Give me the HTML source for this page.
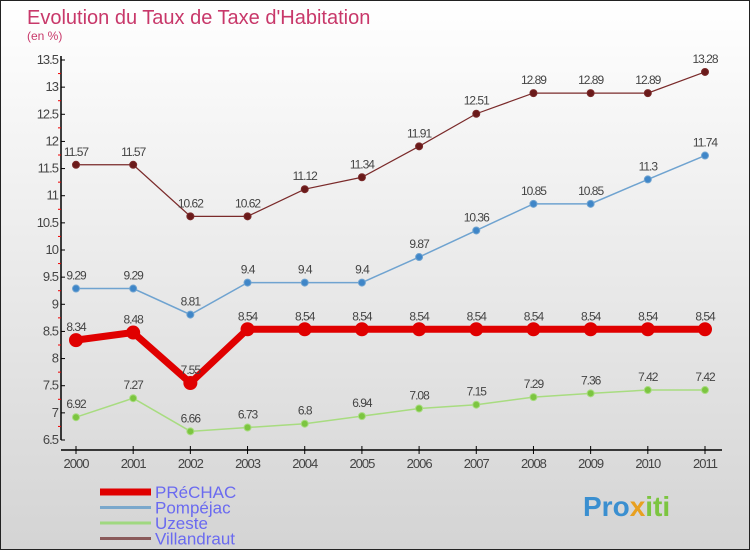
<!DOCTYPE html>
<html><head><meta charset="utf-8"><style>
body{margin:0}
#wrap{width:750px;height:550px;position:relative;overflow:hidden}
svg{display:block;font-family:"Liberation Sans",sans-serif}
</style></head><body>
<div id="wrap">
<svg id="c" width="750" height="550">
<defs><linearGradient id="bg" x1="0" y1="0" x2="0" y2="1"><stop offset="0" stop-color="#ffffff"/><stop offset="1" stop-color="#d4d4d4"/></linearGradient></defs>
<rect x="0.5" y="0.5" width="749" height="549" fill="url(#bg)" stroke="#222"/>
<text x="27" y="24" font-size="20" fill="#c8386a">Evolution du Taux de Taxe d'Habitation</text>
<text x="27" y="40" font-size="12" fill="#c8386a">(en %)</text>
<g id="axes"></g><g id="series"></g><g id="legend"></g>
<text x="583" y="516" font-size="28" font-weight="bold" fill="#3a8fd0">Pro<tspan fill="#e8a020">x</tspan><tspan fill="#7cc540">iti</tspan></text>
</svg></div>
<script>
const years=[2000,2001,2002,2003,2004,2005,2006,2007,2008,2009,2010,2011];
const yTicks=[6.5,7,7.5,8,8.5,9,9.5,10,10.5,11,11.5,12,12.5,13,13.5];
const prechac=[8.34,8.48,7.55,8.54,8.54,8.54,8.54,8.54,8.54,8.54,8.54,8.54];
const pompejac=[9.29,9.29,8.81,9.4,9.4,9.4,9.87,10.36,10.85,10.85,11.3,11.74];
const uzeste=[6.92,7.27,6.66,6.73,6.8,6.94,7.08,7.15,7.29,7.36,7.42,7.42];
const villandraut=[11.57,11.57,10.62,10.62,11.12,11.34,11.91,12.51,12.89,12.89,12.89,13.28];
const seriesNames=["PRéCHAC","Pompéjac","Uzeste","Villandraut"];
const NS="http://www.w3.org/2000/svg";
const X=i=>76+i*(705-76)/11;
const Y=v=>60+(13.5-v)*380/7;
function mk(t,a,p){const e=document.createElementNS(NS,t);for(const k in a)e.setAttribute(k,a[k]);p.appendChild(e);return e;}
const ax=document.getElementById('axes');
let yl=mk('line',{x1:61,y1:56,x2:61,y2:440,stroke:'#000','stroke-width':1.5},ax);


let xl=mk('line',{x1:61,y1:450,x2:722,y2:450,stroke:'#000','stroke-width':1.5},ax);


yTicks.forEach((v,i)=>{const y=Y(v);
mk('line',{x1:61,y1:y,x2:65,y2:y,stroke:'#000'},ax);
if(i<yTicks.length-1)mk('line',{x1:58,y1:y-13.57,x2:61,y2:y-13.57,stroke:'#e00'},ax);
const t=mk('text',{x:58,y:y+4,'font-size':13,fill:'#444','text-anchor':'end','letter-spacing':'-1'},ax);t.textContent=v;

});
years.forEach((yr,i)=>{const x=X(i);
mk('line',{x1:x,y1:446,x2:x,y2:454,stroke:'#000'},ax);
const t=mk('text',{x:x,y:468,'font-size':13,fill:'#444','text-anchor':'middle','letter-spacing':'-1'},ax);t.textContent=yr;

});
const sg=document.getElementById('series');
function draw(data,color,lw,r,fill,name){
const g=mk('g',{},sg);


const p=mk('polyline',{points:data.map((v,i)=>X(i)+','+Y(v)).join(' '),fill:'none',stroke:color,'stroke-width':lw},g);


data.forEach((v,i)=>{const c=mk('circle',{cx:X(i),cy:Y(v),r:r,fill:fill,stroke:color,'stroke-width':1},g);


const t=mk('text',{x:X(i),y:Y(v)-9,'font-size':12,fill:'#444','text-anchor':'middle','letter-spacing':'-1'},g);t.textContent=v;

});}
draw(villandraut,'#7a2a2a',1.2,3.5,'#6a1a1a','villandraut');
draw(pompejac,'#6fa3d0',1.5,3.5,'#3f86c8','pompejac');
draw(uzeste,'#a8dc80',1.5,3.5,'#7cc540','uzeste');
draw(prechac,'#e00000',7,6.5,'#e00000','prechac');
const lg=document.getElementById('legend');
const lc=['#e00000','#7aa8cc','#a0d880','#8a5a5a'],lw=[7,3,3,3];
seriesNames.forEach((n,i)=>{const y=492+i*15.5;
const g=mk('g',{},lg);


mk('line',{x1:100,y1:y,x2:151,y2:y,stroke:lc[i],'stroke-width':lw[i]},g);
const t=mk('text',{x:155,y:y+6,'font-size':17,fill:'#6a6af0'},g);t.textContent=n;});
</script>
</body></html>
